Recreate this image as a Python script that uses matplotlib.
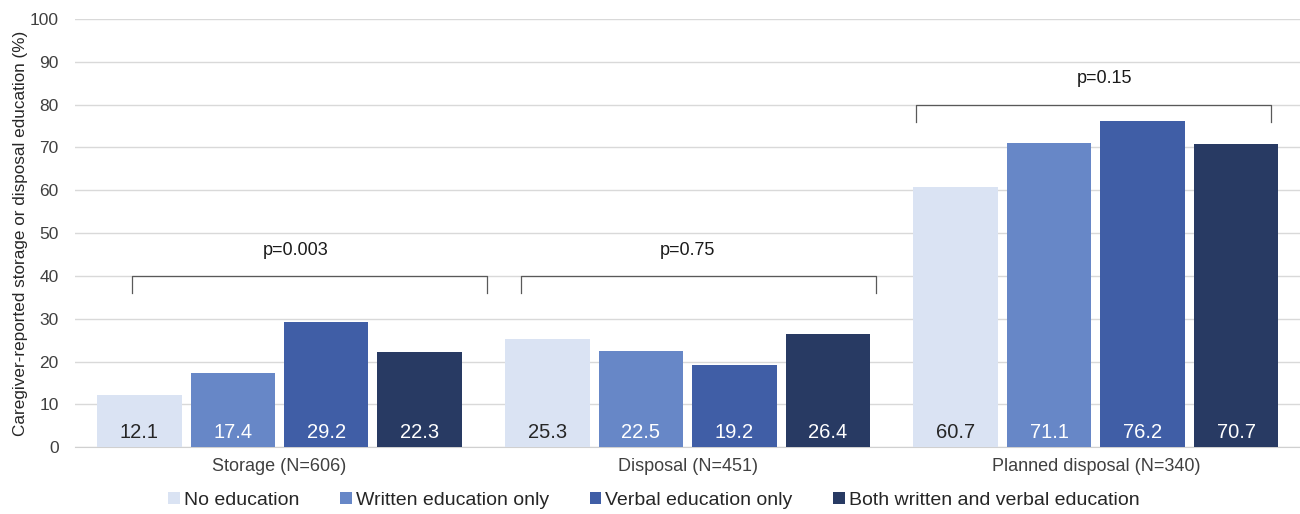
import numpy as np
import matplotlib
matplotlib.use('Agg')
from matplotlib import pyplot as plt

plt.rcParams['font.family'] = ['Liberation Sans', 'DejaVu Sans']

groups = ['Storage (N=606)', 'Disposal (N=451)', 'Planned disposal (N=340)']
series = ['No education', 'Written education only', 'Verbal education only',
          'Both written and verbal education']
values = [
    [12.1, 25.3, 60.7],
    [17.4, 22.5, 71.1],
    [29.2, 19.2, 76.2],
    [22.3, 26.4, 70.7],
]
pvals = ['p=0.003', 'p=0.75', 'p=0.15']
bracket_y = [40, 40, 80]
# brackets in the original sit a little off the group centres
bracket_shift = [0.074, 0.027, -0.005]
text_shift = [0.04, 0.0, 0.022]

colors = ['#dae3f3', '#6787c7', '#405ea6', '#283a63']
text_colors = ['#262626', 'white', 'white', 'white']

fig = plt.figure(figsize=(13, 5.14), dpi=100)
ax = fig.add_axes([0.058, 0.13, 0.942, 0.833])

x = np.arange(len(groups))
step = 0.229
width = 0.207
for i, s in enumerate(series):
    pos = x + (i - 1.5) * step
    ax.bar(pos, values[i], width, color=colors[i], label=s, zorder=3)
    for p, v in zip(pos, values[i]):
        ax.text(p, 3.5, f'{v:.1f}', ha='center', va='center', fontsize=14.5,
                color=text_colors[i], zorder=4)

half = 0.435
for g, (p, yb) in enumerate(zip(pvals, bracket_y)):
    c = g + bracket_shift[g]
    ax.plot([c - half, c - half, c + half, c + half], [yb - 4, yb, yb, yb - 4],
            color='#595959', lw=0.9, zorder=4)
    ax.text(g + text_shift[g], yb + 6, p, ha='center', va='center', fontsize=13,
            color='#1a1a1a')

ax.set_xlim(-0.5, 2.5)
ax.set_ylim(0, 100)
ax.set_yticks(range(0, 101, 10))
ax.set_xticks(x)
ax.set_xticklabels(groups)
ax.yaxis.grid(True, color='#d9d9d9', lw=1, zorder=0)
for sp in ['top', 'right', 'left']:
    ax.spines[sp].set_visible(False)
ax.spines['bottom'].set_color('#d0d0d0')
ax.tick_params(axis='y', length=0, labelsize=12.5, colors='#404040', pad=12)
ax.tick_params(axis='x', length=0, labelsize=13, colors='#404040', pad=8)
ax.set_ylabel('Caregiver-reported storage or disposal education (%)',
              fontsize=12.3, color='#262626')
ax.yaxis.set_label_coords(-0.039, 0.5)

fig.legend(loc='center', bbox_to_anchor=(0.503, 0.027), ncol=4, frameon=False,
           fontsize=14, handlelength=0.6, handleheight=0.6, handletextpad=0.2,
           columnspacing=2.1, labelcolor='#262626')

fig.savefig('out.png', dpi=100)
